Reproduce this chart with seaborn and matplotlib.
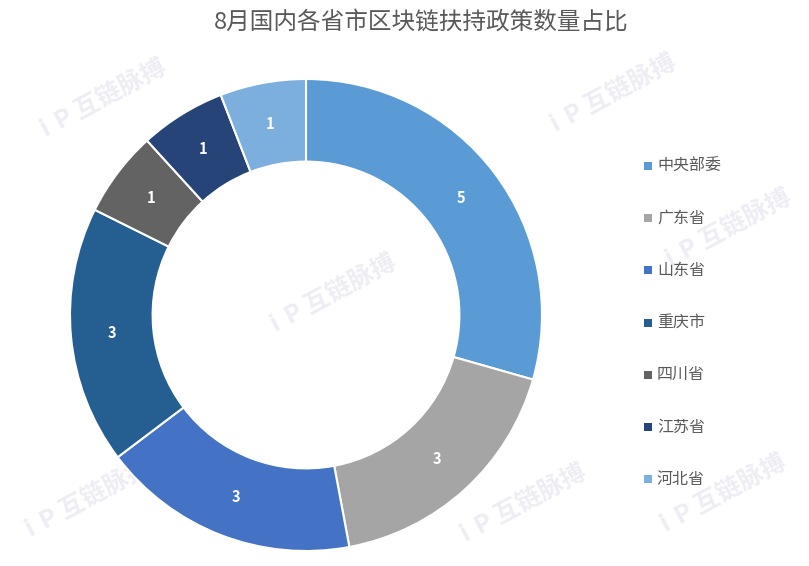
import matplotlib
matplotlib.use("Agg")
import matplotlib.pyplot as plt
import seaborn as sns
import numpy as np
from matplotlib.patches import Rectangle

categories = ["中央部委", "广东省", "山东省", "重庆市", "四川省", "江苏省", "河北省"]
values = [5, 3, 3, 3, 1, 1, 1]
colors = ["#5B9BD5", "#A5A5A5", "#4472C4", "#255E91", "#636363", "#264478", "#7CAFDD"]
title = "8月国内各省市区块链扶持政策数量占比"

sns.set_theme(style="white")
plt.rcParams['font.family'] = ['Noto Sans CJK SC', 'DejaVu Sans']

W, H = 809, 566
fig = plt.figure(figsize=(W / 100, H / 100), dpi=100)
fig.patch.set_facecolor("white")

# faint watermarks
wm_pos = [(100, 100), (610, 95), (330, 295), (85, 500), (520, 505), (725, 230), (720, 495)]
for (x, y) in wm_pos:
    fig.text(x / W, 1 - y / H, "ⅰP 互链脉搏", fontsize=18, color="#eeedf4", rotation=28,
             ha="center", va="center", fontweight="bold", zorder=0)

cx, cy, r = 306, 315, 236
ring = 0.35
ax = fig.add_axes([(cx - r) / W, (H - cy - r) / H, 2 * r / W, 2 * r / H])
ax.set_zorder(1)
wedges, texts = ax.pie(values, colors=colors, startangle=90, counterclock=False,
                       radius=1.0,
                       wedgeprops=dict(width=ring, edgecolor="white", linewidth=1.5))
for v, w in zip(values, wedges):
    mid = np.deg2rad((w.theta1 + w.theta2) / 2)
    rr = 1 - ring / 2
    ax.text(rr * np.cos(mid), rr * np.sin(mid), str(v), ha="center", va="center",
            color="white", fontsize=10.5, fontweight="bold")
ax.set_xlim(-1, 1)
ax.set_ylim(-1, 1)
ax.set_aspect("auto")
ax.axis("off")

fig.text(421 / W, 1 - 22 / H, title, ha="center", va="center", fontsize=17, color="#595959")

# legend
y0, dy = 166, 52.2
for i, lab in enumerate(categories):
    y = y0 + i * dy
    fig.patches.append(Rectangle((644 / W, 1 - (y + 4) / H), 8 / W, 8 / H,
                                 transform=fig.transFigure, facecolor=colors[i],
                                 edgecolor="none", figure=fig))
    fig.text(657 / W, 1 - y / H, lab, ha="left", va="center", fontsize=11.5, color="#595959")

fig.savefig("out.png", dpi=100, facecolor="white")
